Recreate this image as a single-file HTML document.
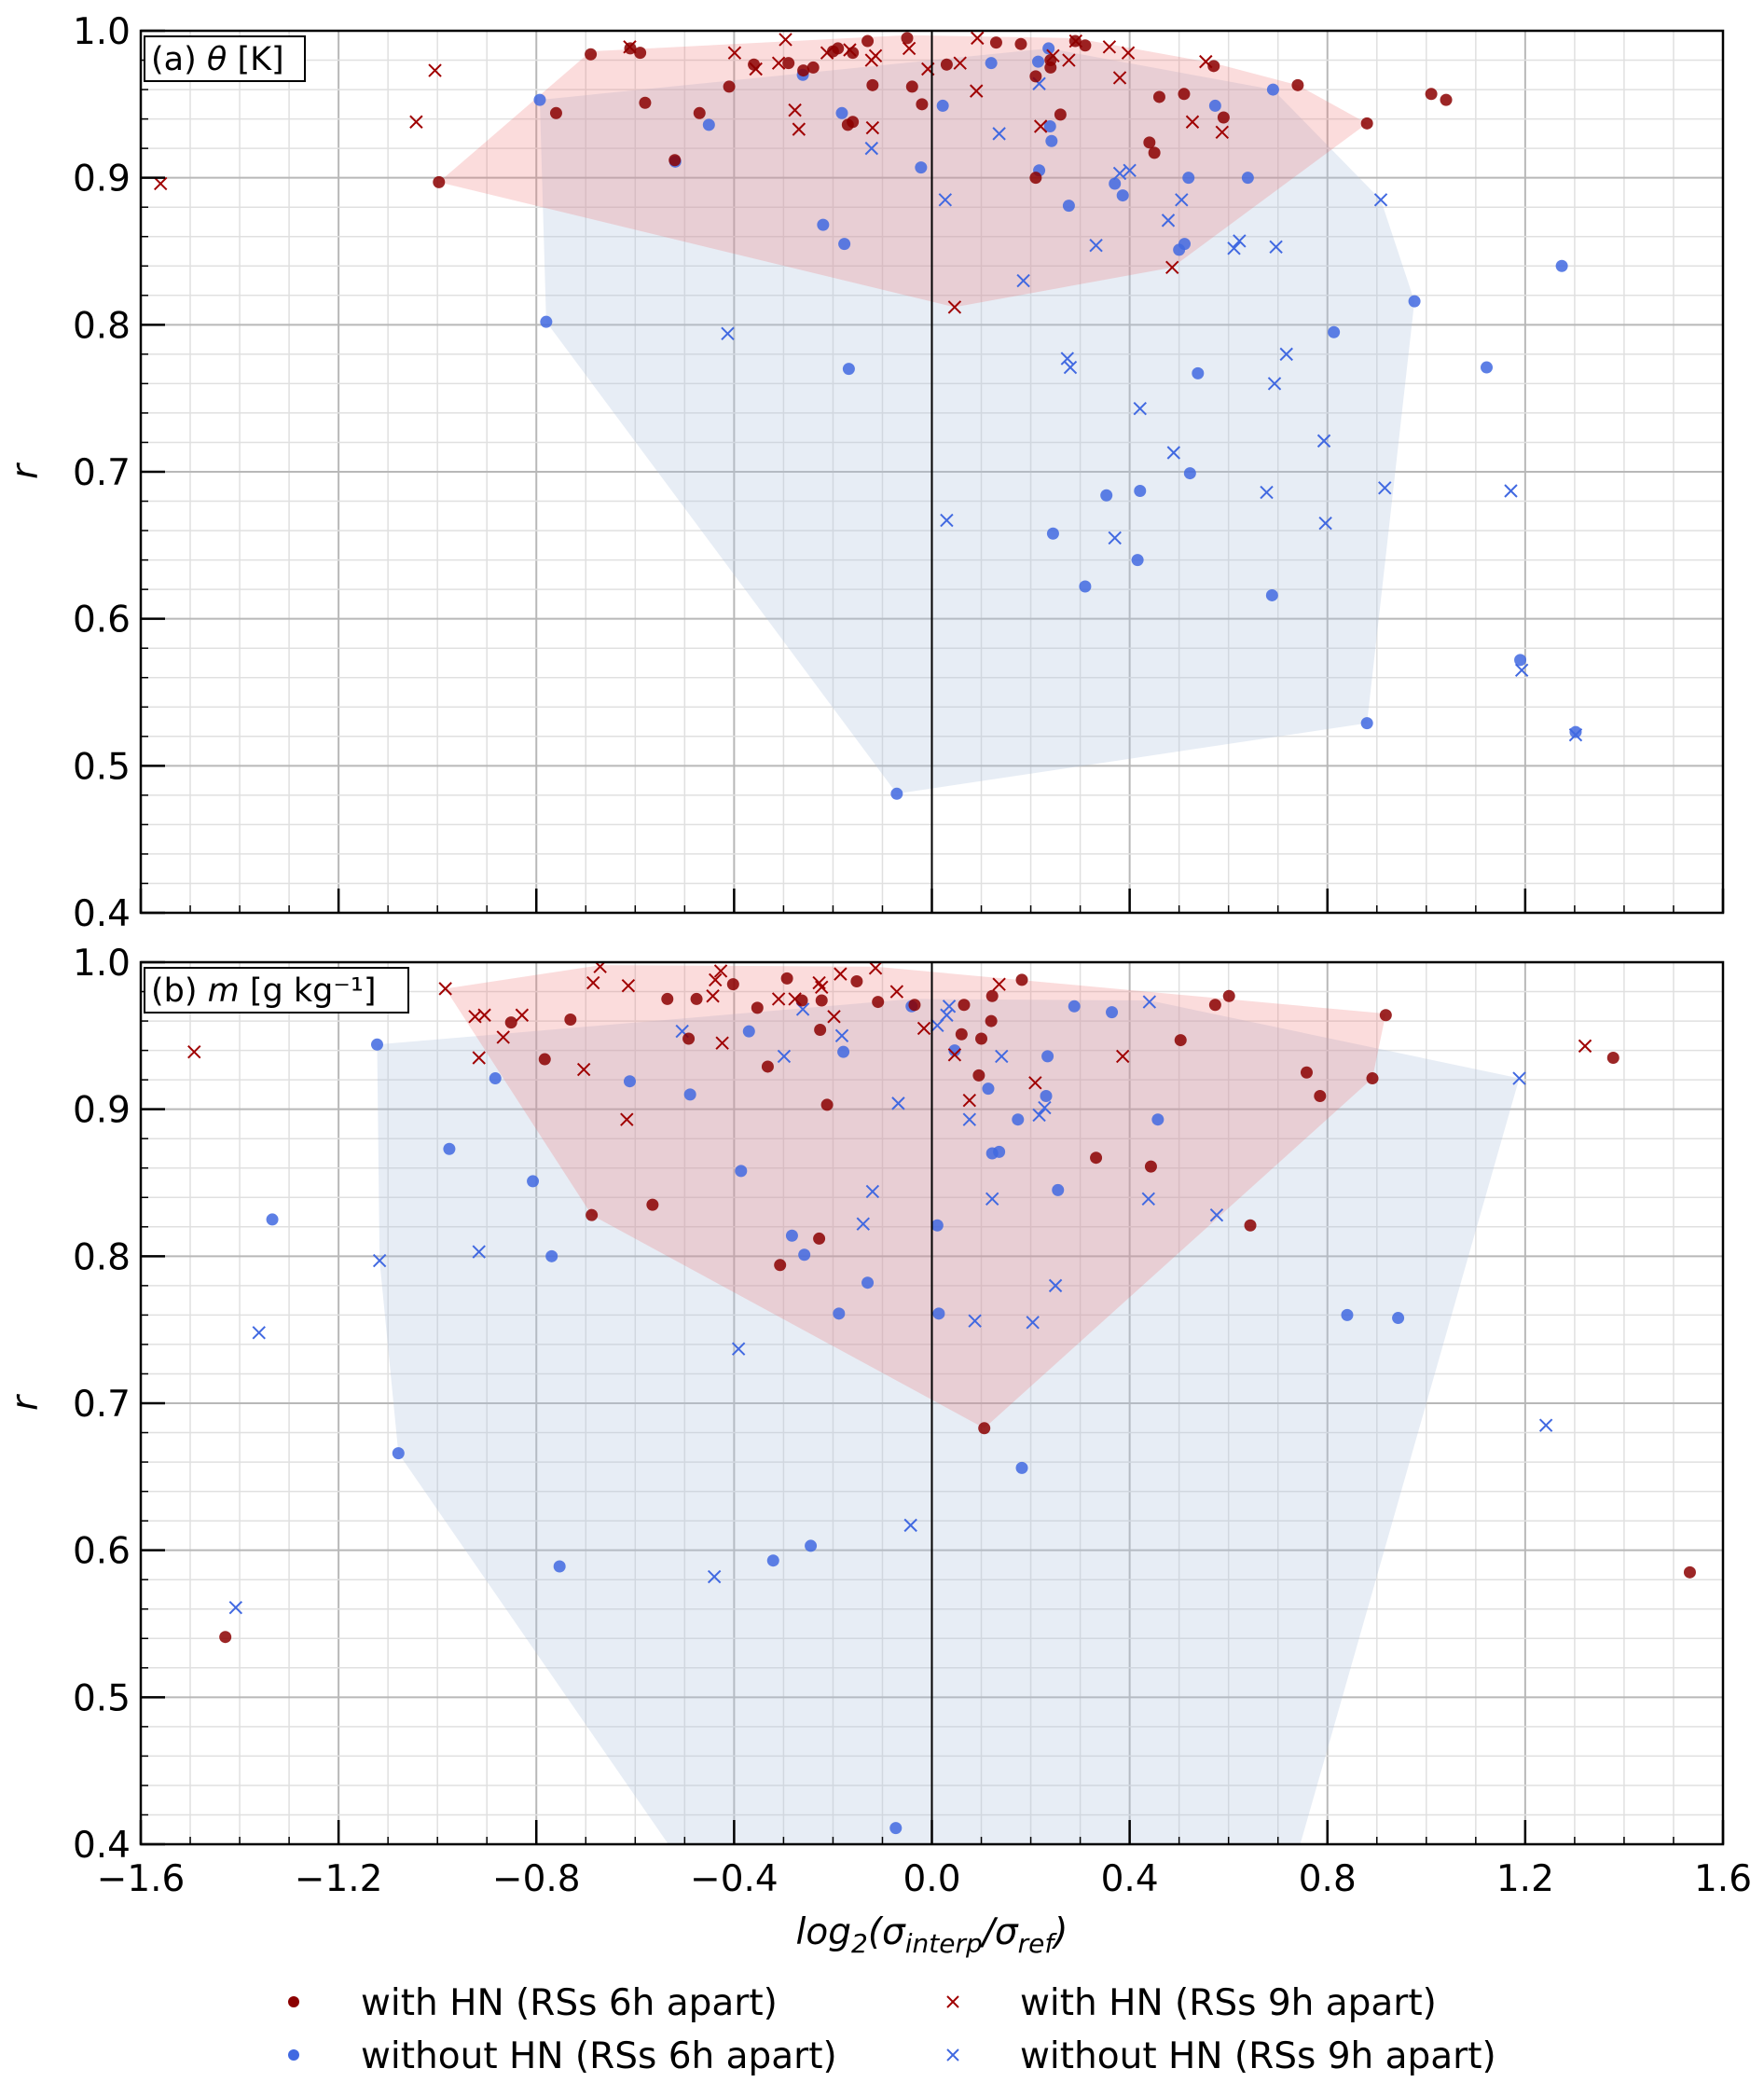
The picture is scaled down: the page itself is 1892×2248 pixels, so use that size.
<!DOCTYPE html>
<html><head><meta charset="utf-8"><style>
html,body{margin:0;padding:0;background:#fff;}
svg{display:block;font-family:"DejaVu Sans","Liberation Sans",sans-serif;}
</style></head><body>
<svg id="chart" width="1892" height="2248" viewBox="0 0 1892 2248" xmlns="http://www.w3.org/2000/svg"></svg>
<script>
// ---------- DATA ----------
const xTicks = [-1.6,-1.2,-0.8,-0.4,0.0,0.4,0.8,1.2,1.6];
const xTickLabels = ["\u22121.6","\u22121.2","\u22120.8","\u22120.4","0.0","0.4","0.8","1.2","1.6"];
const yTicks = [0.4,0.5,0.6,0.7,0.8,0.9,1.0];
const yTickLabels = ["0.4","0.5","0.6","0.7","0.8","0.9","1.0"];

const aRedDots = [[-0.997,0.897],[-0.69,0.984],[-0.61,0.988],[-0.59,0.985],[-0.76,0.944],[-0.58,0.951],[-0.52,0.912],[-0.47,0.944],[-0.41,0.962],[-0.36,0.977],[-0.29,0.978],[-0.24,0.975],[-0.2,0.986],[-0.19,0.988],[-0.16,0.985],[-0.16,0.938],[-0.17,0.936],[-0.12,0.963],[-0.13,0.993],[-0.05,0.995],[-0.04,0.962],[-0.02,0.950],[0.03,0.977],[0.13,0.992],[0.18,0.991],[0.21,0.969],[0.24,0.975],[0.24,0.98],[0.26,0.943],[0.29,0.993],[0.31,0.99],[0.21,0.9],[0.44,0.924],[0.45,0.917],[0.46,0.955],[0.51,0.957],[0.57,0.976],[0.59,0.941],[0.74,0.963],[0.88,0.937],[1.01,0.957],[1.04,0.953],[-0.26,0.973]];
const aRedCross = [[-1.56,0.896],[-1.043,0.938],[-1.005,0.973],[-0.611,0.989],[-0.399,0.985],[-0.356,0.974],[-0.31,0.978],[-0.296,0.994],[-0.277,0.946],[-0.269,0.933],[-0.212,0.985],[-0.166,0.987],[-0.122,0.98],[-0.114,0.983],[-0.12,0.934],[-0.046,0.988],[-0.008,0.974],[0.092,0.995],[0.09,0.959],[0.057,0.978],[0.22,0.935],[0.245,0.983],[0.277,0.98],[0.291,0.993],[0.38,0.968],[0.397,0.985],[0.359,0.989],[0.486,0.839],[0.527,0.938],[0.554,0.979],[0.587,0.931],[0.046,0.812]];
const aBlueDots = [[-0.793,0.953],[-0.78,0.802],[-0.451,0.936],[-0.519,0.911],[-0.22,0.868],[-0.177,0.855],[-0.168,0.77],[-0.261,0.97],[-0.182,0.944],[-0.022,0.907],[0.022,0.949],[0.12,0.978],[0.215,0.979],[0.236,0.988],[0.242,0.925],[0.217,0.905],[0.239,0.935],[0.277,0.881],[0.37,0.896],[0.386,0.888],[0.416,0.64],[0.353,0.684],[0.31,0.622],[0.245,0.658],[0.421,0.687],[0.5,0.851],[0.511,0.855],[0.522,0.699],[0.519,0.9],[0.538,0.767],[0.573,0.949],[0.639,0.9],[0.69,0.96],[0.813,0.795],[0.688,0.616],[0.88,0.529],[0.976,0.816],[1.122,0.771],[1.19,0.572],[1.274,0.84],[1.302,0.523],[-0.071,0.481]];
const aBlueCross = [[-0.413,0.794],[-0.122,0.92],[0.03,0.667],[0.027,0.885],[0.136,0.93],[0.185,0.83],[0.274,0.777],[0.28,0.771],[0.332,0.854],[0.38,0.903],[0.4,0.905],[0.421,0.743],[0.478,0.871],[0.489,0.713],[0.505,0.885],[0.37,0.655],[0.611,0.852],[0.622,0.857],[0.696,0.853],[0.717,0.78],[0.693,0.76],[0.677,0.686],[0.793,0.721],[0.796,0.665],[0.908,0.885],[0.916,0.689],[1.193,0.565],[1.302,0.521],[1.171,0.687],[0.217,0.964]];
const aRedHull = [[-0.997,0.897],[-0.69,0.986],[-0.05,0.997],[0.29,0.995],[0.57,0.978],[0.74,0.963],[0.88,0.937],[0.486,0.839],[0.046,0.812]];
const aBlueHull = [[-0.793,0.953],[0.236,0.988],[0.69,0.96],[0.908,0.885],[0.976,0.816],[0.88,0.529],[-0.071,0.481],[-0.78,0.802]];

const bRedDots = [[-1.429,0.541],[-0.851,0.959],[-0.783,0.934],[-0.731,0.961],[-0.688,0.828],[-0.565,0.835],[-0.535,0.975],[-0.492,0.948],[-0.476,0.975],[-0.402,0.985],[-0.353,0.969],[-0.332,0.929],[-0.307,0.794],[-0.293,0.989],[-0.263,0.974],[-0.226,0.954],[-0.228,0.812],[-0.212,0.903],[-0.223,0.974],[-0.152,0.987],[-0.109,0.973],[-0.035,0.971],[0.065,0.971],[0.1,0.948],[0.06,0.951],[0.106,0.683],[0.122,0.977],[0.182,0.988],[0.443,0.861],[0.332,0.867],[0.503,0.947],[0.573,0.971],[0.601,0.977],[0.644,0.821],[0.758,0.925],[0.785,0.909],[0.891,0.921],[0.918,0.964],[1.378,0.935],[1.533,0.585],[0.095,0.923],[0.12,0.96]];
const bRedCross = [[-1.492,0.939],[-0.984,0.982],[-0.924,0.963],[-0.905,0.964],[-0.916,0.935],[-0.867,0.949],[-0.829,0.964],[-0.704,0.927],[-0.685,0.986],[-0.671,0.997],[-0.614,0.984],[-0.617,0.893],[-0.443,0.977],[-0.438,0.988],[-0.427,0.994],[-0.424,0.945],[-0.31,0.975],[-0.277,0.975],[-0.228,0.986],[-0.223,0.983],[-0.198,0.963],[-0.185,0.992],[-0.114,0.996],[-0.071,0.98],[-0.016,0.955],[0.046,0.937],[0.076,0.906],[0.136,0.985],[0.209,0.918],[0.386,0.936],[1.321,0.943]];
const bBlueDots = [[-1.334,0.825],[-1.122,0.944],[-1.079,0.666],[-0.976,0.873],[-0.883,0.921],[-0.807,0.851],[-0.769,0.8],[-0.753,0.589],[-0.611,0.919],[-0.489,0.91],[-0.386,0.858],[-0.37,0.953],[-0.321,0.593],[-0.283,0.814],[-0.258,0.801],[-0.245,0.603],[-0.179,0.939],[-0.188,0.761],[-0.13,0.782],[-0.041,0.97],[0.011,0.821],[0.014,0.761],[0.046,0.94],[0.114,0.914],[0.122,0.87],[0.136,0.871],[0.174,0.893],[0.182,0.656],[0.231,0.909],[0.234,0.936],[0.255,0.845],[0.288,0.97],[0.364,0.966],[0.457,0.893],[0.84,0.76],[0.943,0.758],[-0.073,0.411]];
const bBlueCross = [[-1.408,0.561],[-1.361,0.748],[-1.117,0.797],[-0.916,0.803],[-0.505,0.953],[-0.391,0.737],[-0.44,0.582],[-0.299,0.936],[-0.261,0.968],[-0.182,0.95],[-0.12,0.844],[-0.139,0.822],[-0.068,0.904],[-0.043,0.617],[0.011,0.957],[0.03,0.964],[0.035,0.97],[0.076,0.893],[0.087,0.756],[0.122,0.839],[0.141,0.936],[0.217,0.896],[0.228,0.901],[0.25,0.78],[0.204,0.755],[0.438,0.839],[0.44,0.973],[0.576,0.828],[1.188,0.921],[1.242,0.685]];
const bRedHull = [[-0.984,0.982],[-0.671,0.998],[-0.114,0.997],[0.918,0.965],[0.891,0.921],[0.106,0.683],[-0.688,0.828]];
const bBlueHull = [[-1.122,0.944],[-0.041,0.975],[0.44,0.974],[1.188,0.921],[0.745,0.4],[-0.533,0.4],[-1.079,0.666],[-1.117,0.797]];

// ---------- LAYOUT ----------
const svg = document.getElementById('chart');
const NS = 'http://www.w3.org/2000/svg';
const L = 151, R = 1848;
const FS = 39;
const panels = [
  {top:33, bot:979, id:'a', label:'(a) ', sym:'\u03b8', unit:' [K]', red:aRedDots, redX:aRedCross, blue:aBlueDots, blueX:aBlueCross, rh:aRedHull, bh:aBlueHull, showX:false},
  {top:1032, bot:1978, id:'b', label:'(b) ', sym:'m', unit:' [g kg\u207b\u00b9]', red:bRedDots, redX:bRedCross, blue:bBlueDots, blueX:bBlueCross, rh:bRedHull, bh:bBlueHull, showX:true}
];
function xs(v){ return L + (v + 1.6) / 3.2 * (R - L); }
function mk(tag, attrs, parent){
  const e = document.createElementNS(NS, tag);
  for (const k in attrs) e.setAttribute(k, attrs[k]);
  (parent || svg).appendChild(e);
  return e;
}
const defs = mk('defs', {});

panels.forEach(p => {
  const ys = v => p.bot - (v - 0.4) / 0.6 * (p.bot - p.top);
  const g = mk('g', {});
  
  
  const cp = mk('clipPath', {id:'clip' + p.id}, defs);
  mk('rect', {x:L, y:p.top, width:R - L, height:p.bot - p.top}, cp);

  for (let i = 0; i <= 32; i++) {
    const v = -1.6 + i * 0.1, x = xs(v);
    const major = i % 4 === 0;
    const ln = mk('line', {x1:x, x2:x, y1:p.top, y2:p.bot, stroke: major ? '#b8b8b8' : '#e0e0e0', 'stroke-width': major ? 2 : 1.5}, g);
    
    
  }
  for (let i = 0; i <= 30; i++) {
    const v = 0.4 + i * 0.02, y = ys(v);
    const major = i % 5 === 0;
    const ln = mk('line', {x1:L, x2:R, y1:y, y2:y, stroke: major ? '#b8b8b8' : '#e0e0e0', 'stroke-width': major ? 2 : 1.5}, g);
    
    
  }

  const cg = mk('g', {'clip-path':'url(#clip' + p.id + ')'}, g);
  const bhull = mk('polygon', {points: p.bh.map(d => xs(d[0]) + ',' + ys(d[1])).join(' '), fill:'rgb(176,196,222)', 'fill-opacity':0.3}, cg);
  
  
  const rhull = mk('polygon', {points: p.rh.map(d => xs(d[0]) + ',' + ys(d[1])).join(' '), fill:'rgb(240,110,110)', 'fill-opacity':0.24}, cg);
  
  

  const z = mk('line', {x1:xs(0), x2:xs(0), y1:p.top, y2:p.bot, stroke:'#000', 'stroke-width':2}, g);
  
  

  function dots(arr, col, name){
    arr.forEach(d => {
      const c = mk('circle', {cx:xs(d[0]), cy:ys(d[1]), r:6.5, fill:col, 'fill-opacity':0.85}, cg);
      
      
    });
  }
  function crosses(arr, col, name){
    arr.forEach(d => {
      const x = xs(d[0]), y = ys(d[1]), s = 6.5;
      const c = mk('path', {d:`M${x-s},${y-s}L${x+s},${y+s}M${x-s},${y+s}L${x+s},${y-s}`, stroke:col, 'stroke-width':2, fill:'none'}, cg);
      
      
    });
  }
  crosses(p.blueX, '#4169e1', 'point-without-hn-9h');
  dots(p.blue, '#4169e1', 'point-without-hn-6h');
  crosses(p.redX, '#a00000', 'point-with-hn-9h');
  dots(p.red, '#8b0000', 'point-with-hn-6h');

  const fr = mk('rect', {x:L, y:p.top, width:R - L, height:p.bot - p.top, fill:'none', stroke:'#000', 'stroke-width':2.5}, g);
  
  

  xTicks.forEach((v, i) => {
    const x = xs(v);
    const t = mk('line', {x1:x, x2:x, y1:p.bot, y2:p.bot - 26, stroke:'#000', 'stroke-width':2.5}, g);
    
    
    if (p.showX) {
      const tl = mk('text', {x:x, y:p.bot + 50, 'font-size':FS, 'text-anchor':'middle', fill:'#000'}, g);
      tl.textContent = xTickLabels[i];
      
      
    }
  });
  for (let i = 0; i <= 32; i++) {
    const x = xs(-1.6 + i * 0.1);
    mk('line', {x1:x, x2:x, y1:p.bot, y2:p.bot - 8, stroke:'#000', 'stroke-width':1.5}, g);
  }
  yTicks.forEach((v, i) => {
    const y = ys(v);
    const t = mk('line', {x1:L, x2:L + 26, y1:y, y2:y, stroke:'#000', 'stroke-width':2.5}, g);
    
    
    const tl = mk('text', {x:140, y:y + 14, 'font-size':FS, 'text-anchor':'end', fill:'#000'}, g);
    tl.textContent = yTickLabels[i];
    
    
  });
  for (let i = 0; i <= 30; i++) {
    const y = ys(0.4 + i * 0.02);
    mk('line', {x1:L, x2:L + 8, y1:y, y2:y, stroke:'#000', 'stroke-width':1.5}, g);
  }
  const yt = mk('text', {x:40, y:(p.top + p.bot) / 2, 'font-size':FS, 'font-style':'italic', 'text-anchor':'middle', transform:`rotate(-90 40 ${(p.top + p.bot) / 2})`}, g);
  yt.textContent = 'r';
  
  

  const box = mk('rect', {x:155, y:p.top + 6, width: p.id === 'a' ? 172 : 283, height:48, fill:'#fff', stroke:'#000', 'stroke-width':2}, g);
  
  
  const lt = mk('text', {x:162, y:p.top + 42, 'font-size':35, fill:'#000'}, g);
  
  
  const t1 = mk('tspan', {}, lt); t1.textContent = p.label;
  const t2 = mk('tspan', {'font-style':'italic'}, lt); t2.textContent = p.sym;
  const t3 = mk('tspan', {}, lt); t3.textContent = p.unit;
});

const xt = mk('text', {x:xs(0), y:2085, 'font-size':FS, 'font-style':'italic', 'text-anchor':'middle'});


xt.innerHTML = 'log<tspan font-size="28" dy="9">2</tspan><tspan dy="-9">(\u03c3</tspan><tspan font-size="28" dy="9">interp</tspan><tspan dy="-9">/\u03c3</tspan><tspan font-size="28" dy="9">ref</tspan><tspan dy="-9">)</tspan>';

const legendItems = [
  {x:315, y:2147, col:'#8b0000', type:'dot', text:'with HN (RSs 6h apart)'},
  {x:1022, y:2147, col:'#a00000', type:'cross', text:'with HN (RSs 9h apart)'},
  {x:315, y:2204, col:'#4169e1', type:'dot', text:'without HN (RSs 6h apart)'},
  {x:1022, y:2204, col:'#4169e1', type:'cross', text:'without HN (RSs 9h apart)'}
];
const lg = mk('g', {});


legendItems.forEach(it => {
  const e = mk('g', {}, lg);
  
  
  if (it.type === 'dot') mk('circle', {cx:it.x, cy:it.y, r:6, fill:it.col}, e);
  else { const s = 6; mk('path', {d:`M${it.x-s},${it.y-s}L${it.x+s},${it.y+s}M${it.x-s},${it.y+s}L${it.x+s},${it.y-s}`, stroke:it.col, 'stroke-width':2}, e); }
  const t = mk('text', {x:it.x + 72, y:it.y + 14, 'font-size':FS, fill:'#000'}, e);
  t.textContent = it.text;
});
</script>
</body></html>
